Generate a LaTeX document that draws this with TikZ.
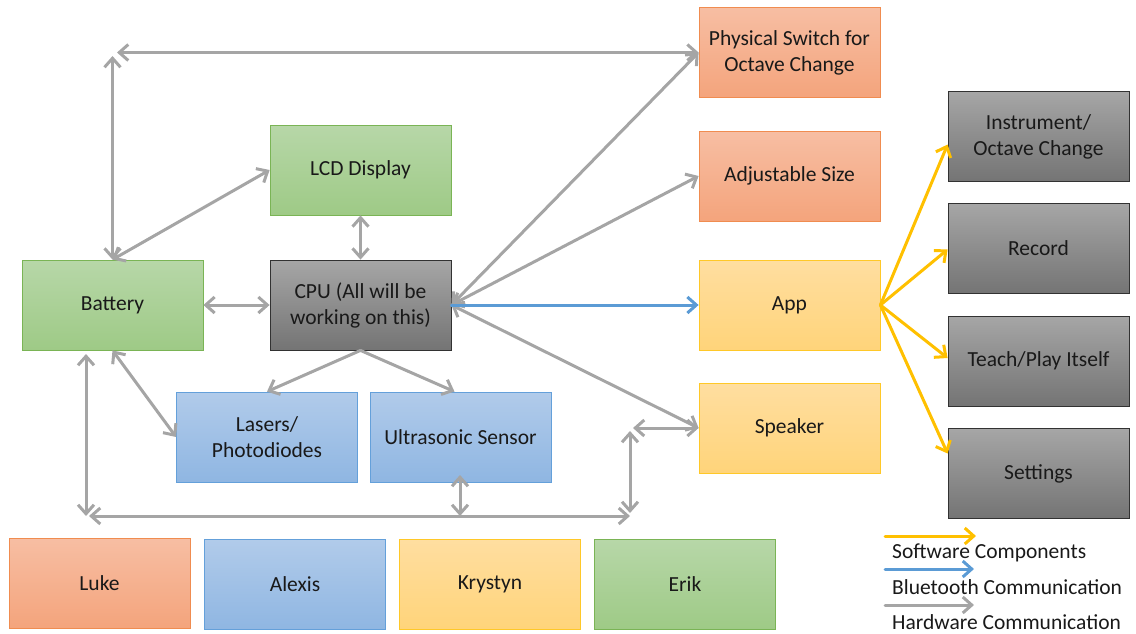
\documentclass[tikz,border=0pt]{standalone}
\usepackage{fontspec}
\setmainfont{Carlito}
\usetikzlibrary{arrows.meta}

\definecolor{orgTop}{RGB}{247,190,163}
\definecolor{orgBot}{RGB}{244,164,124}
\definecolor{orgLine}{RGB}{240,140,80}
\definecolor{grnTop}{RGB}{183,215,168}
\definecolor{grnBot}{RGB}{158,202,134}
\definecolor{grnLine}{RGB}{122,180,85}
\definecolor{bluTop}{RGB}{177,203,234}
\definecolor{bluBot}{RGB}{143,182,226}
\definecolor{bluLine}{RGB}{100,160,218}
\definecolor{ylwTop}{RGB}{255,222,160}
\definecolor{ylwBot}{RGB}{255,212,122}
\definecolor{ylwLine}{RGB}{255,200,40}
\definecolor{gryTop}{RGB}{166,166,166}
\definecolor{gryBot}{RGB}{116,116,116}
\definecolor{gryLine}{RGB}{50,50,50}
\definecolor{hwgray}{RGB}{165,165,165}
\definecolor{btblue}{RGB}{91,155,213}
\definecolor{swyellow}{RGB}{255,192,0}
\definecolor{txt}{RGB}{25,25,25}

\tikzset{
  box/.style={rectangle, minimum width=181pt, minimum height=90pt, inner sep=0pt,
    align=center, line width=0.8pt, text=txt, font=\fontsize{21.5}{26}\selectfont},
  orangebox/.style={box, draw=orgLine, top color=orgTop, bottom color=orgBot},
  greenbox/.style={box, draw=grnLine, top color=grnTop, bottom color=grnBot},
  bluebox/.style={box, draw=bluLine, top color=bluTop, bottom color=bluBot},
  yellowbox/.style={box, draw=ylwLine, top color=ylwTop, bottom color=ylwBot},
  graybox/.style={box, draw=gryLine, top color=gryTop, bottom color=gryBot},
  link/.style={line width=3pt, line cap=round, line join=round},
  hw/.style={link, draw=hwgray, {Straight Barb[length=9pt,width=16pt]}-{Straight Barb[length=9pt,width=16pt]}},
  hwone/.style={link, draw=hwgray, -{Straight Barb[length=9pt,width=16pt]}},
  bt/.style={link, draw=btblue, -{Straight Barb[length=9pt,width=16pt]}},
  sw/.style={link, draw=swyellow, -{Straight Barb[length=9pt,width=16pt]}},
  legend/.style={anchor=west, inner sep=0pt, text=txt, font=\fontsize{21.5}{24}\selectfont}
}

\begin{document}
\begin{tikzpicture}[x=1pt,y=-1pt]
\useasboundingbox (0,0) rectangle (1136,633);

% hardware blocks
\node[orangebox] (switch) at (789.5,52.5) {Physical Switch for\\Octave Change};
\node[orangebox] (size)   at (789.5,176) {Adjustable Size};
\node[yellowbox] (app)    at (789.5,305) {App};
\node[yellowbox] (spk)    at (789.5,428) {Speaker};
\node[greenbox]  (lcd)    at (360.5,170) {LCD Display};
\node[graybox]   (cpu)    at (360.5,305) {CPU (All will be\\working on this)};
\node[greenbox]  (bat)    at (112.5,305) {Battery};
\node[bluebox]   (las)    at (267,437) {Lasers/\\Photodiodes};
\node[bluebox]   (ult)    at (460.5,437) {Ultrasonic Sensor};

% app features
\node[graybox] (ins) at (1038.5,136.5) {Instrument/\\Octave Change};
\node[graybox] (rec) at (1038.5,248.5) {Record};
\node[graybox] (tea) at (1038.5,361) {Teach/Play Itself};
\node[graybox] (set) at (1038.5,473.5) {Settings};

% team members
\node[orangebox] (luke)    at (99.5,583) {Luke};
\node[bluebox]   (alexis)  at (295,584.5) {Alexis};
\node[yellowbox] (krystyn) at (490,584.5) {Krystyn};
\node[greenbox]  (erik)    at (685,584.5) {Erik};

% bus corners
\coordinate (topleft)  at (112.5,56);
\coordinate (topstart) at (117,52.5);
\coordinate (batdown)  at (86,354);
\coordinate (busleft)  at (86,516);
\coordinate (busstart) at (89,516);
\coordinate (busend)   at (630,516);
\coordinate (busmid)   at (460,516);
\coordinate (ultdown)  at (460,475);
\coordinate (spkcorner) at (630,431);
\coordinate (spkstart) at (633,428);
\coordinate (spkbus)   at (630,513);

% hardware connections
\draw[hw] (topleft) -- (bat.north);
\draw[hw] (topstart) -- (switch.west);
\draw[hw] (bat.north) -- (lcd.west);
\draw[hw] (lcd.south) -- (cpu.north);
\draw[hw] (bat.east) -- (cpu.west);
\draw[hw] (cpu.east) -- (switch.west);
\draw[hw] (cpu.east) -- (size.west);
\draw[hw] (cpu.east) -- (spk.west);
\draw[hwone] (cpu.south) -- (las.north);
\draw[hwone] (cpu.south) -- ([xshift=-6pt]ult.north);
\draw[hw] (bat.south) -- (las.west);
\draw[hw] (batdown) -- (busleft);
\draw[hw] (busstart) -- (busend);
\draw[hw] (ultdown) -- (busmid);
\draw[hw] (spkcorner) -- (spkbus);
\draw[hw] (spkstart) -- (spk.west);

% bluetooth link
\draw[bt] (cpu.east) -- (app.west);

% software links
\draw[sw] (app.east) -- ([yshift=-8pt]ins.west);
\draw[sw] (app.east) -- ([yshift=-1pt]rec.west);
\draw[sw] (app.east) -- ([yshift=3pt]tea.west);
\draw[sw] (app.east) -- ([yshift=20pt]set.west);

% legend
\coordinate (l1a) at (885,536); \coordinate (l1b) at (976,536);
\coordinate (l2a) at (885,569); \coordinate (l2b) at (974,569);
\coordinate (l3a) at (885,605); \coordinate (l3b) at (974,605);
\draw[sw] (l1a) -- (l1b);
\draw[bt] (l2a) -- (l2b);
\draw[hwone] (l3a) -- (l3b);
\node[legend] (lg1) at (892,553) {Software Components};
\node[legend] (lg2) at (892,587) {Bluetooth Communication};
\node[legend] (lg3) at (892,622) {Hardware Communication};
\end{tikzpicture}
\end{document}
